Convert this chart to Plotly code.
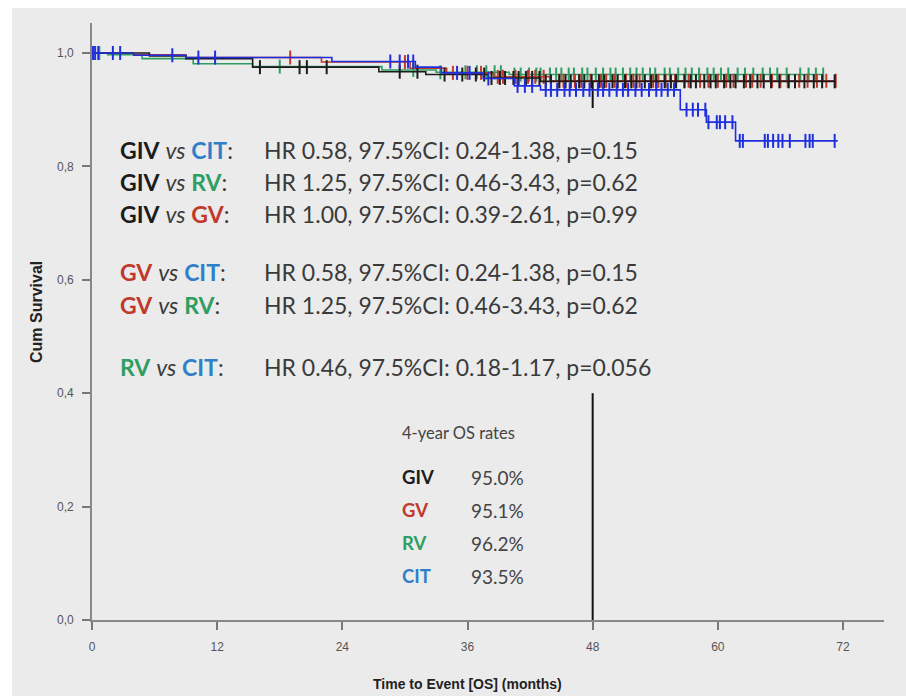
import numpy as np
import plotly.graph_objects as go

# ---- Kaplan-Meier step data (months, cumulative survival) ----
giv_t = [0, 5.5, 9.0, 15.4, 27.5, 32.0, 38.0, 43.0, 71.3]
giv_s = [1.0, 0.995, 0.990, 0.975, 0.967, 0.962, 0.956, 0.950, 0.950]

gv_t = [0, 4.0, 9.0, 22.0, 30.5, 34.0, 38.5, 44.0, 71.3]
gv_s = [1.0, 0.997, 0.992, 0.984, 0.973, 0.965, 0.958, 0.951, 0.951]

rv_t = [0, 1.5, 4.8, 9.7, 15.4, 27.8, 33.0, 40.0, 70.1]
rv_s = [1.0, 0.997, 0.990, 0.981, 0.976, 0.970, 0.966, 0.962, 0.962]

cit_t = [0, 4.0, 9.0, 23.0, 31.0, 33.5, 37.5, 40.5, 43.0, 56.4, 58.9, 61.7, 71.5]
cit_s = [1.0, 0.996, 0.992, 0.985, 0.975, 0.965, 0.955, 0.942, 0.935, 0.900, 0.878, 0.845, 0.845]

# ---- censoring times (months) ----
giv_cens = [16.1, 19.9, 20.6, 22.5, 29.5, 31.2, 33.8, 35.5, 36.8, 37.6, 38.3, 39.1, 39.6,
            40.4, 40.9, 41.6, 42.2, 42.9, 43.5, 44.0, 44.8, 45.4, 45.9, 46.7, 47.2, 47.9,
            48.6, 49.1, 49.9, 50.4, 51.1, 51.7, 52.2, 53.0, 53.6, 54.1, 54.9, 55.5, 56.0,
            56.8, 57.4, 57.9, 58.7, 59.3, 59.8, 60.6, 61.2, 61.7, 62.5, 63.1, 63.8, 64.4,
            65.1, 65.9, 66.8, 67.4, 68.3, 69.2, 70.0, 71.2]
gv_cens = [19.0, 30.0, 34.6, 36.0, 37.3, 38.9, 39.4, 40.6, 41.8, 42.5, 43.3, 44.8, 45.2,
           46.3, 46.9, 47.8, 48.8, 49.3, 50.1, 51.2, 51.9, 52.5, 53.8, 54.3, 55.0, 55.9,
           56.8, 57.2, 58.3, 59.1, 60.0, 60.8, 61.5, 62.7, 63.3, 64.1, 65.2, 66.0, 66.7,
           67.8, 68.6, 69.5, 70.4, 71.3]
rv_cens = [0.7, 18.0, 30.8, 33.4, 35.8, 36.9, 37.8, 38.6, 39.2, 40.5, 41.1, 41.9, 42.6,
           43.0, 43.9, 44.5, 45.0, 45.7, 46.2, 47.0, 47.5, 48.3, 49.0, 49.7, 50.2, 50.9,
           51.6, 52.2, 52.8, 53.5, 54.0, 54.9, 55.4, 56.2, 56.9, 57.5, 58.2, 59.0, 59.6,
           60.3, 61.0, 61.9, 62.6, 63.4, 64.3, 65.0, 65.7, 66.6, 67.9, 68.7, 69.4, 70.1]
cit_cens = [0.1, 0.3, 0.6, 2.0, 2.7, 7.7, 10.2, 11.8, 28.6, 29.5, 30.3, 30.8, 35.0, 36.2,
            38.0, 40.8, 41.5, 42.2, 43.5, 44.0, 44.6, 45.3, 45.8, 46.4, 47.1, 47.7, 48.5,
            49.0, 49.6, 50.3, 50.9, 51.4, 52.1, 52.7, 53.4, 54.1, 54.6, 55.2, 55.8, 57.0,
            57.6, 58.1, 58.8, 59.1, 59.9, 60.2, 60.7, 61.4, 62.1, 62.4, 64.5, 64.8, 65.3,
            65.8, 66.2, 66.9, 68.4, 68.8, 69.1, 71.2]

# ---- hazard-ratio comparisons ----
comp_a = ["GIV", "GIV", "GIV", "GV", "GV", "RV"]
comp_b = ["CIT", "RV", "GV", "CIT", "RV", "CIT"]
hr_vals = ["0.58", "1.25", "1.00", "0.58", "1.25", "0.46"]
ci_vals = ["0.24-1.38", "0.46-3.43", "0.39-2.61", "0.24-1.38", "0.46-3.43", "0.18-1.17"]
p_vals = ["0.15", "0.62", "0.99", "0.15", "0.62", "0.056"]

# ---- 4-year overall survival rates (%) ----
rate_groups = ["GIV", "GV", "RV", "CIT"]
rate_vals = [95.0, 95.1, 96.2, 93.5]

x_ticks = [0, 12, 24, 36, 48, 60, 72]
y_ticks = [0.0, 0.2, 0.4, 0.6, 0.8, 1.0]

# ---- styling ----
curve_col = {"GIV": "#1c1c1c", "GV": "#c0392b", "RV": "#2e9e62", "CIT": "#1f2fe0"}
text_col = {"GIV": "#1c1c1c", "GV": "#c0392b", "RV": "#2e9e62", "CIT": "#2f80c8"}
BG = "#ebebeb"
TXT_FONT = "Lato, Carlito, Calibri, 'Open Sans', sans-serif"
NARROW = "'Liberation Sans Narrow', 'Arial Narrow', 'Liberation Sans', Arial, sans-serif"

# plot-area geometry in pixels
L, R, T, B = 92, 884, 23, 620
W, H = 906, 696


def fx(px):
    return (px - L) / (R - L)


def fy(py):
    return (B - py) / (B - T)


def surv_at(t_arr, s_arr, tc):
    idx = np.searchsorted(np.asarray(t_arr), np.asarray(tc), side="right") - 1
    return np.asarray(s_arr)[idx]


fig = go.Figure()

series = [("RV", rv_t, rv_s, rv_cens), ("GV", gv_t, gv_s, gv_cens),
          ("GIV", giv_t, giv_s, giv_cens), ("CIT", cit_t, cit_s, cit_cens)]
for name, t, s, cens in series:
    fig.add_trace(go.Scatter(x=t, y=s, mode="lines", line=dict(color=curve_col[name], width=1.6, shape="hv"),
                             showlegend=False, cliponaxis=False, hoverinfo="skip"))
    fig.add_trace(go.Scatter(x=cens, y=surv_at(t, s, cens), mode="markers",
                             marker=dict(symbol="line-ns", size=10, line=dict(color=curve_col[name], width=2)),
                             showlegend=False, cliponaxis=False, hoverinfo="skip"))

# 4-year reference line at 48 months
fig.add_shape(type="line", x0=48, x1=48, y0=0.95, y1=0.903, xref="x", yref="y",
              line=dict(color="#111", width=2), layer="below")
fig.add_shape(type="line", x0=48, x1=48, y0=0.0, y1=0.40, xref="x", yref="y",
              line=dict(color="#111", width=2), layer="below")

# white strips around the grey panel
fig.add_shape(type="rect", xref="paper", yref="paper", x0=fx(0), x1=fx(W), y0=fy(8), y1=fy(0),
              fillcolor="white", line_width=0, layer="above")
fig.add_shape(type="rect", xref="paper", yref="paper", x0=fx(0), x1=fx(12), y0=fy(H), y1=fy(0),
              fillcolor="white", line_width=0, layer="above")

ann = []
row_y = [150, 182, 214, 272, 305, 367]
for a, b, hr, ci, p, py in zip(comp_a, comp_b, hr_vals, ci_vals, p_vals, row_y):
    label = (f"<b><span style='color:{text_col[a]}'>{a}</span></b> "
             f"<i><span style='color:#3a3a3a'>vs</span></i> "
             f"<b><span style='color:{text_col[b]}'>{b}</span></b>:")
    ann.append(dict(x=fx(118), y=fy(py), xref="paper", yref="paper", text=label, showarrow=False,
                    xanchor="left", yanchor="middle", font=dict(family=TXT_FONT, size=23, color="#3a3a3a")))
    ann.append(dict(x=fx(262), y=fy(py), xref="paper", yref="paper",
                    text=f"HR {hr}, 97.5%CI: {ci}, p={p}", showarrow=False,
                    xanchor="left", yanchor="middle", font=dict(family=TXT_FONT, size=23, color="#3a3a3a")))

ann.append(dict(x=fx(400), y=fy(433), xref="paper", yref="paper", text="4-year OS rates", showarrow=False,
                xanchor="left", yanchor="middle", font=dict(family=TXT_FONT, size=16.5, color="#444")))
for g, v, py in zip(rate_groups, rate_vals, [477, 510, 543, 576]):
    ann.append(dict(x=fx(400), y=fy(py), xref="paper", yref="paper",
                    text=f"<b>{g}</b>", showarrow=False, xanchor="left", yanchor="middle",
                    font=dict(family=TXT_FONT, size=18.5, color=text_col[g])))
    ann.append(dict(x=fx(469), y=fy(py), xref="paper", yref="paper",
                    text=f"{v:.1f}%", showarrow=False, xanchor="left", yanchor="middle",
                    font=dict(family=TXT_FONT, size=19, color="#444")))

# axis titles
ann.append(dict(x=fx(467), y=fy(684), xref="paper", yref="paper", text="<b>Time to Event [OS] (months)</b>",
                showarrow=False, xanchor="center", yanchor="middle",
                font=dict(family=NARROW, size=14, color="#222")))
ann.append(dict(x=fx(36), y=fy(312), xref="paper", yref="paper", text="<b>Cum Survival</b>",
                showarrow=False, xanchor="center", yanchor="middle", textangle=-90,
                font=dict(family="'Liberation Sans', Arial, sans-serif", size=16, color="#222")))

px_per_month = (843 - L) / 72
px_per_unit = (B - 53) / 1.0

fig.update_layout(
    width=W, height=H,
    margin=dict(l=L, r=W - R, t=T, b=H - B, pad=0),
    paper_bgcolor=BG, plot_bgcolor=BG,
    separators=",.",
    annotations=ann,
    xaxis=dict(range=[0, (R - L) / px_per_month], tickvals=x_ticks, ticks="outside", ticklen=8,
               tickwidth=1.5, tickcolor="#777", showline=True, linecolor="#888", linewidth=1.8,
               showgrid=False, zeroline=False, ticklabelstandoff=7,
               tickfont=dict(family=NARROW, size=12, color="#555")),
    yaxis=dict(range=[0, (B - T) / px_per_unit], tickvals=y_ticks, tickformat=".1f", ticks="outside",
               ticklen=8, tickwidth=1.5, tickcolor="#777", showline=True, linecolor="#888", linewidth=1.8,
               showgrid=False, zeroline=False, ticklabelstandoff=6,
               tickfont=dict(family=NARROW, size=12, color="#555")),
)

fig.write_html("out.html")
